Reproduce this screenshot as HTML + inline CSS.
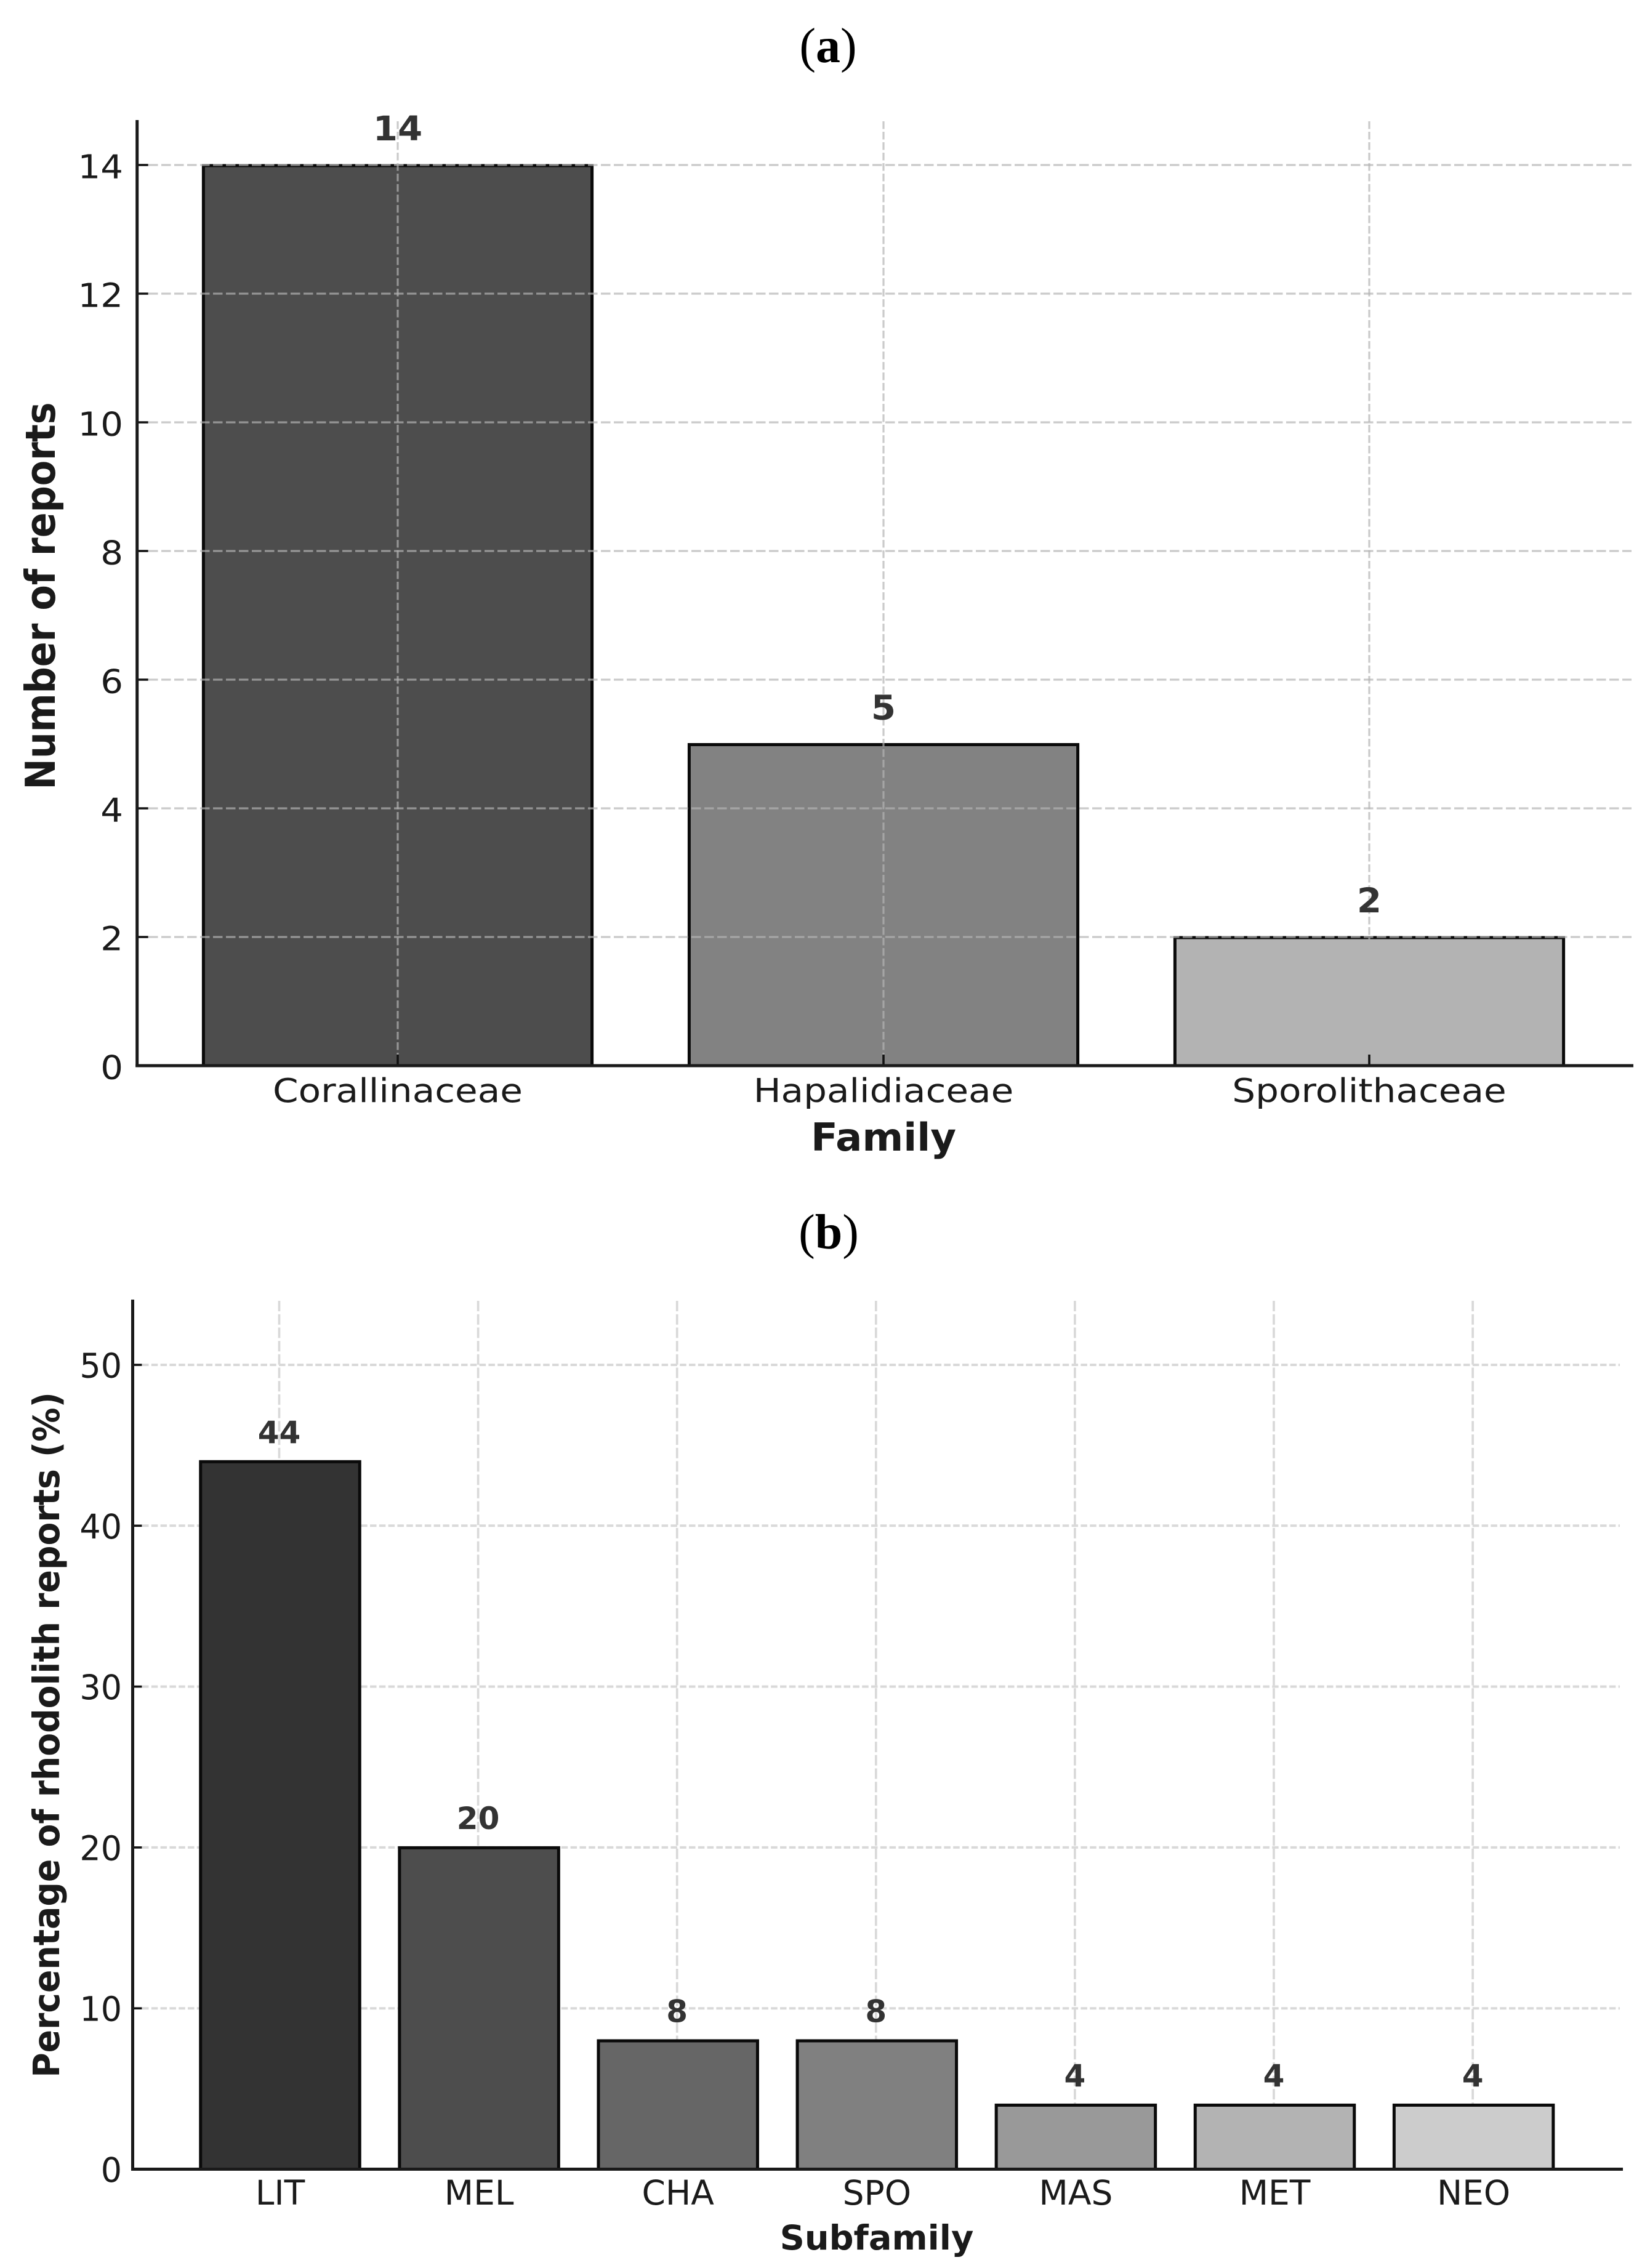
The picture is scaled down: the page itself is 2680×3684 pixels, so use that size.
<!DOCTYPE html>
<html lang="en">
<head>
<meta charset="utf-8">
<title>Rhodolith reports by family and subfamily</title>
<style>
html,body{margin:0;padding:0;background:#fff;}
svg{display:block;}
text{font-family:"DejaVu Sans",sans-serif;}
.panel-title{font-family:"Liberation Serif",serif;font-size:80px;fill:#000;text-anchor:middle;}
</style>
</head>
<body>
<svg id="figure" xmlns="http://www.w3.org/2000/svg" width="2680" height="3684" viewBox="0 0 2680 3684">
<rect x="0" y="0" width="2680" height="3684" fill="#fff"/>
<text class="panel-title" x="1345" y="101">(<tspan font-weight="bold">a</tspan>)</text>
<text class="panel-title" x="1346" y="2028">(<tspan font-weight="bold">b</tspan>)</text>
</svg>
<script>
// Panel (a) data
const familyCategories = ["Corallinaceae", "Hapalidiaceae", "Sporolithaceae"];
const familyReports = [14, 5, 2];
const familyTicks = [0, 2, 4, 6, 8, 10, 12, 14];
const familyFills = ["#4d4d4d", "#828282", "#b3b3b3"];

// Panel (b) data
const subfamilyCategories = ["LIT", "MEL", "CHA", "SPO", "MAS", "MET", "NEO"];
const subfamilyPercent = [44, 20, 8, 8, 4, 4, 4];
const subfamilyTicks = [0, 10, 20, 30, 40, 50];
const subfamilyFills = ["#333333", "#4d4d4d", "#666666", "#808080", "#999999", "#b3b3b3", "#cccccc"];

const svg = document.getElementById("figure");
const NS = "http://www.w3.org/2000/svg";

function line(group, x1, y1, x2, y2, stroke, width, dash) {
  const el = document.createElementNS(NS, "line");
  el.setAttribute("x1", x1);
  el.setAttribute("y1", y1);
  el.setAttribute("x2", x2);
  el.setAttribute("y2", y2);
  el.setAttribute("stroke", stroke);
  el.setAttribute("stroke-width", width);
  if (dash) el.setAttribute("stroke-dasharray", dash);
  group.appendChild(el);
  return el;
}

function label(group, str, x, y, size, stretch, anchor, weight, fill, rotated) {
  const el = document.createElementNS(NS, "text");
  el.textContent = str;
  el.setAttribute("font-size", size);
  el.setAttribute("text-anchor", anchor);
  el.setAttribute("font-weight", weight);
  el.setAttribute("fill", fill);
  const t = rotated
    ? "translate(" + x + "," + y + ") rotate(-90) scale(1," + stretch + ")"
    : "translate(" + x + "," + y + ") scale(" + stretch + ",1)";
  el.setAttribute("transform", t);
  group.appendChild(el);
  return el;
}

function drawPanel(p, categories, values, ticks, fills) {
  const xPos = i => p.x0 + i * p.unit;
  const yPos = v => p.base - v * p.perValue;
  const root = document.createElementNS(NS, "g");
  
  
  svg.appendChild(root);

  const gridGroup = document.createElementNS(NS, "g");
  
  
  ticks.forEach(v => {
    const gl = line(gridGroup, p.gridLeft, yPos(v), p.gridRight, yPos(v), p.gridColor, p.gridH, p.dashH);
    
    
  });
  categories.forEach((c, i) => {
    const gl = line(gridGroup, xPos(i) + p.gridShift, p.top + 2, xPos(i) + p.gridShift, p.base, p.gridColor, p.gridV, p.dashV);
    
    
  });

  const tickGroup = document.createElementNS(NS, "g");
  
  
  ticks.forEach(v => {
    const tk = line(tickGroup, p.axisX, yPos(v), p.axisX + p.tickLen + 2, yPos(v), "#111", 3.6);
    
    
  });
  categories.forEach((c, i) => {
    const tk = line(tickGroup, xPos(i) + p.gridShift, p.base, xPos(i) + p.gridShift, p.base - p.tickLen - 2, "#111", 3.6);
    
    
  });

  const barGroup = document.createElementNS(NS, "g");
  
  
  values.forEach((v, i) => {
    const w = p.unit * 0.8;
    const top = yPos(v) + p.barTopShift;
    const r = document.createElementNS(NS, "rect");
    r.setAttribute("x", xPos(i) - w / 2);
    r.setAttribute("y", top);
    r.setAttribute("width", w);
    r.setAttribute("height", p.base - top);
    r.setAttribute("fill", fills[i]);
    r.setAttribute("stroke", "#0a0a0a");
    r.setAttribute("stroke-width", 5);
    
    
    barGroup.appendChild(r);
  });

  if (p.gridOnTop) {
    root.appendChild(barGroup);
    root.appendChild(gridGroup);
    root.appendChild(tickGroup);
  } else {
    root.appendChild(gridGroup);
    root.appendChild(tickGroup);
    root.appendChild(barGroup);
  }

  const yAxis = line(root, p.axisX, p.top, p.axisX, p.base + 2.5, "#1a1a1a", 5);
  
  
  const xAxis = line(root, p.axisX - 2.5, p.base, p.axisRight, p.base, "#1a1a1a", 5);
  
  

  ticks.forEach(v => {
    const t = label(root, String(v), p.yTickRight, yPos(v) + p.yTickDrop, p.tickSize, p.yTickStretch, "end", "normal", "#1a1a1a");
    
    
  });
  categories.forEach((c, i) => {
    const t = label(root, c, xPos(i), p.xTickBase, p.tickSize, p.xTickStretch, "middle", "normal", "#1a1a1a");
    
    
  });
  values.forEach((v, i) => {
    const t = label(root, String(v), xPos(i) + p.gridShift, yPos(v) - p.valueGap, p.valueSize, p.valueStretch, "middle", "bold", "#333");
    
    
  });

  const xt = label(root, p.xTitle, p.xTitleX, p.xTitleBase, p.xTitleSize, p.xTitleStretch, "middle", "bold", "#1a1a1a");
  
  
  const yt = label(root, p.yTitle, p.yTitleX, p.yTitleY, p.yTitleSize, p.yTitleStretch, "middle", "bold", "#1a1a1a", true);
  
  
}

drawPanel({
  name: "family-chart", x0: 646, unit: 789, base: 1731, perValue: 104.5, top: 195,
  axisX: 222.7, axisRight: 2653, gridLeft: 241, gridRight: 2650, gridShift: 0,
  gridColor: "rgba(180,180,180,0.7)", gridH: 3.3, gridV: 3.2, dashH: "15.5 5.5", dashV: "12.5 4.5",
  gridOnTop: true, tickLen: 16, barTopShift: 1,
  tickSize: 53.5, yTickStretch: 1.08, xTickStretch: 1.115, yTickRight: 200, yTickDrop: 21.5, xTickBase: 1790,
  valueSize: 55, valueStretch: 1.05, valueGap: 40,
  xTitle: "Family", xTitleX: 1435, xTitleBase: 1869, xTitleSize: 62, xTitleStretch: 1.035,
  yTitle: "Number of reports", yTitleX: 89, yTitleY: 968, yTitleSize: 60.3, yTitleStretch: 1.11
}, familyCategories, familyReports, familyTicks, familyFills);

drawPanel({
  name: "subfamily-chart", x0: 455, unit: 323.1, base: 3523.5, perValue: 26.13, top: 2111,
  axisX: 215.5, axisRight: 2636, gridLeft: 231, gridRight: 2631, gridShift: -1.5,
  gridColor: "#d9d9d9", gridH: 4, gridV: 3.7, dashH: "10.5 4.3", dashV: "17 4.7",
  gridOnTop: false, tickLen: 13, barTopShift: 0.5,
  tickSize: 55, yTickStretch: 0.98, xTickStretch: 1.0, yTickRight: 198, yTickDrop: 20.5, xTickBase: 3581,
  valueSize: 50, valueStretch: 1, valueGap: 30,
  xTitle: "Subfamily", xTitleX: 1424, xTitleBase: 3654, xTitleSize: 55, xTitleStretch: 1.015,
  yTitle: "Percentage of rhodolith reports (%)", yTitleX: 96, yTitleY: 2818, yTitleSize: 55.2, yTitleStretch: 1.06
}, subfamilyCategories, subfamilyPercent, subfamilyTicks, subfamilyFills);
</script>
</body>
</html>
